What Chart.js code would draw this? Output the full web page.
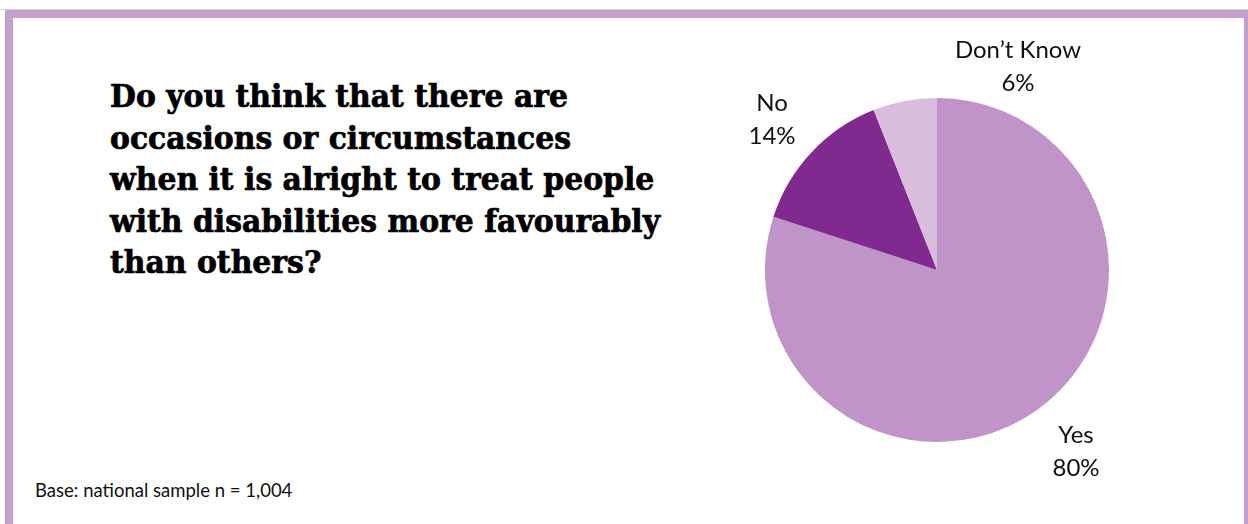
<!DOCTYPE html>
<html>
<head>
<meta charset="utf-8">
<script src="https://cdn.jsdelivr.net/npm/chart.js@4"></script>
<style>
  html, body { margin: 0; padding: 0; background: #fff; }
  #page { position: relative; width: 1248px; height: 524px; overflow: hidden; background: #fff; }
  #topline { position: absolute; left: 0; top: 9px; width: 1248px; height: 1px; background: #d4d2da; }
  #frame { position: absolute; left: 5px; top: 10px; width: 1231px; height: 530px;
           border-top: 8px solid #c3a0cb; border-left: 8px solid #c3a0cb; border-right: 4px solid #c3a0cb; }
  #question { position: absolute; left: 110px; top: 76px; font-family: "DejaVu Serif", serif; font-weight: bold;
              font-size: 31px; line-height: 41.5px; color: #000; white-space: nowrap; transform-origin: 0 0;
              -webkit-text-stroke: 0.7px #000; }
  #base { position: absolute; left: 35px; top: 479px; font-family: Lato, sans-serif; font-size: 18.5px; color: #111; }
  #wrap { position: absolute; left: 0; top: 0; width: 1248px; height: 524px; }
</style>
</head>
<body>
<div id="page">
  <div id="topline"></div>
  <div id="frame"></div>
  <div id="question">Do you think that there are<br>occasions or circumstances<br>when it is alright to treat people<br>with disabilities more favourably<br>than others?</div>
  <div id="base">Base: national sample n = 1,004</div>
  <div id="wrap"><canvas id="chart"></canvas></div>
</div>
<script>
// answers and their shares (%)
var categories = ['Yes', 'No', 'Don\u2019t Know'];
var shares = [80, 14, 6];
var sliceColors = ['#c094c8', '#80298f', '#d9bddd'];
// where each label block sits, measured from the pie centre
var labelOffsets = [[139, 181], [-165, -151], [81, -204]];

// squeeze the question to its column width
var q = document.getElementById('question');
q.style.transform = 'scaleX(' + (550 / q.scrollWidth) + ')';

var pieLabels = {
    id: 'pieLabels',
    afterDatasetsDraw: function (chart) {
        var c = chart.ctx;
        var arcs = chart.getDatasetMeta(0).data;
        c.save();
        c.fillStyle = '#111';
        c.font = '24px Lato, sans-serif';
        c.textAlign = 'center';
        c.textBaseline = 'middle';
        arcs.forEach(function (arc, i) {
            var x = arc.x + labelOffsets[i][0];
            var y = arc.y + labelOffsets[i][1];
            c.fillText(categories[i], x, y - 16);
            c.fillText(shares[i] + '%', x, y + 17);
        });
        c.restore();
    }
};

var ctx = document.getElementById('chart').getContext('2d');
var pieChart = new Chart(ctx, {
    type: 'pie',
    data: {
        labels: categories,
        datasets: [{
            data: shares,
            backgroundColor: sliceColors,
            borderWidth: 0,
            radius: 172
        }]
    },
    options: {
        responsive: true,
        maintainAspectRatio: false,
        animation: false,
        layout: { padding: { left: 737, right: 111, top: 70, bottom: 54 } },
        plugins: {
            legend: { display: false },
            tooltip: { enabled: false }
        }
    },
    plugins: [pieLabels]
});
</script>
</body>
</html>
